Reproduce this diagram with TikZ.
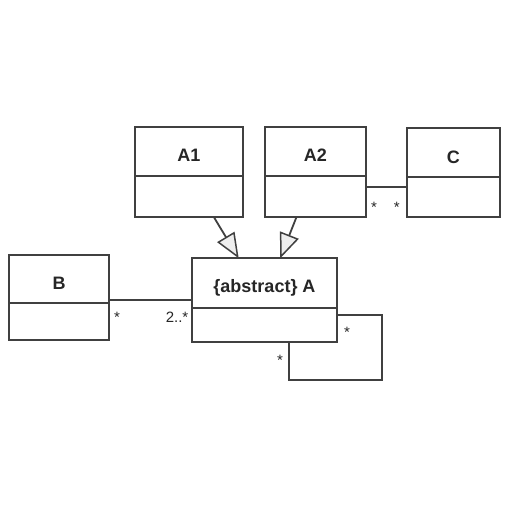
\documentclass[tikz,border=0pt]{standalone}
\usepackage{fontspec}
\setmainfont{Liberation Sans}
\usetikzlibrary{arrows.meta,calc}
\definecolor{ln}{HTML}{404040}
\definecolor{tx}{HTML}{262626}
\definecolor{trifill}{HTML}{EEEEEE}
\begin{document}
\begin{tikzpicture}[x=1pt,y=-1pt,
  box/.style={draw=ln,line width=1.8pt,fill=white,inner sep=0pt,outer sep=0pt},
  cname/.style={text=tx,font=\fontsize{18}{20}\selectfont\bfseries,anchor=base,inner sep=0pt},
  mult/.style={text=tx,font=\fontsize{15}{18}\selectfont,anchor=base,inner sep=0pt},
  conn/.style={draw=ln,line width=1.8pt},
  gen/.style={conn,-{Triangle[length=25pt,width=20pt,fill=trifill,line width=1.5pt]}},
  divider/.style={draw=ln,line width=1.8pt}]
\useasboundingbox[fill=white] (0,0) rectangle (512,512);

% classes
\node[box,minimum width=108pt,minimum height=90.6pt] (A1) at (189,172) {};
\node[box,minimum width=101pt,minimum height=90pt] (A2) at (315.5,172) {};
\node[box,minimum width=93.3pt,minimum height=89pt] (C) at (453.3,172.8) {};
\node[box,minimum width=145.6pt,minimum height=83.4pt] (A) at (264.5,300) {};
\node[box,minimum width=100pt,minimum height=85pt] (B) at (59,297.5) {};

% compartments
\draw[divider] (A1.west |- 0,176) -- (A1.east |- 0,176);
\draw[divider] (A2.west |- 0,176) -- (A2.east |- 0,176);
\draw[divider] (C.west |- 0,177.3) -- (C.east |- 0,177.3);
\draw[divider] (A.west |- 0,307.7) -- (A.east |- 0,307.7);
\draw[divider] (B.west |- 0,303.3) -- (B.east |- 0,303.3);

% names
\node[cname] (A1t) at (189,161.5) {A1};
\node[cname] (A2t) at (315.5,161.5) {A2};
\node[cname] (Ct) at (453.3,163) {C};
\node[cname] (At) at (264.5,292) {\{abstract\} A};
\node[cname] (Bt) at (59,289) {B};

% generalizations
\draw[gen] ([xshift=79pt]A1.south west) -- ([xshift=47pt]A.north west);
\draw[gen] ([xshift=31.5pt]A2.south west) -- ([xshift=88.5pt]A.north west);

% association A2 -- C
\draw[conn] ([yshift=-15.3pt]A2.east) coordinate (ac) -- (ac -| C.west);
\node[mult] (m1) at (374,212) {*};
\node[mult] (m2) at (396.7,212) {*};

% association B -- A
\draw[conn] (A.west -| B.east) -- (A.west);
\node[mult] (m3) at (117,322) {*};
\node[mult,anchor=base east] (m4) at (188.5,322) {2..*};

% self association on A
\draw[conn] ([yshift=-15pt]A.east) -- ++(44.7,0) |- (289.3,380) coordinate (sl) -- (sl |- A.south);
\node[mult] (m5) at (347,337) {*};
\node[mult] (m6) at (280,365) {*};
\end{tikzpicture}
\end{document}
